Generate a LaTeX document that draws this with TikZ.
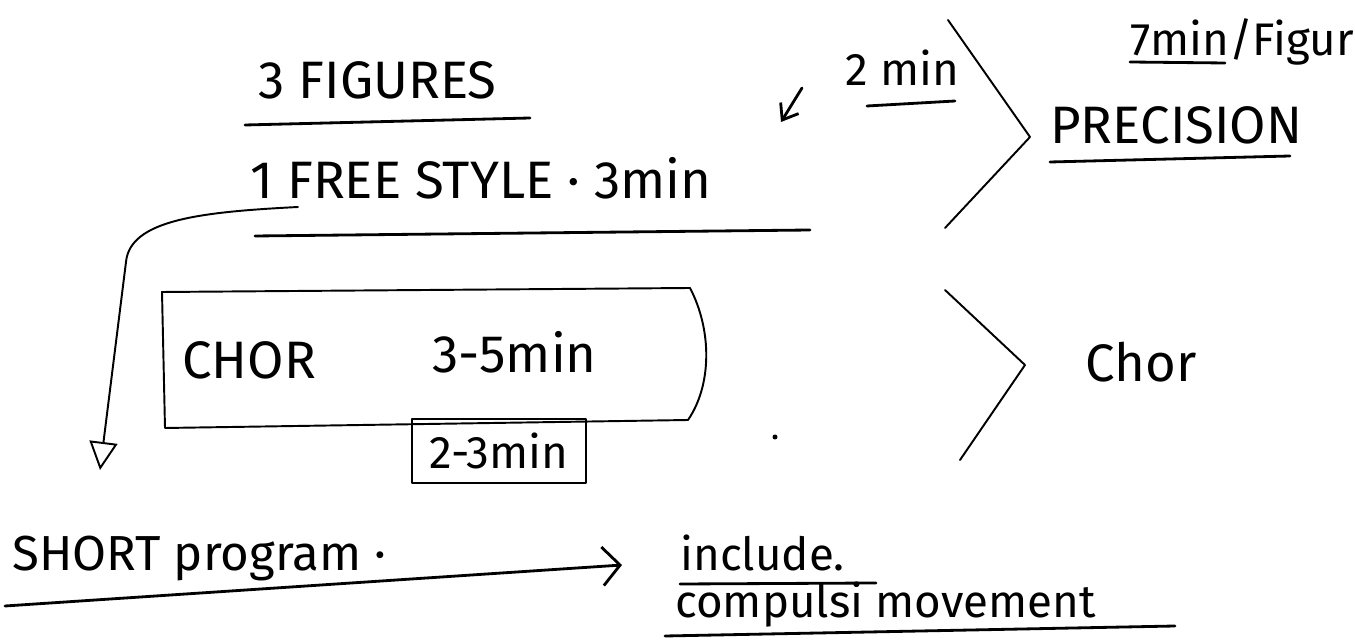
\documentclass[tikz,border=0pt]{standalone}
\usepackage{fontspec}
\setmainfont{Fira Sans}
\usetikzlibrary{arrows.meta}
\tikzset{
  hw/.style={inner sep=0pt, anchor=west, text=black},
  big/.style={hw, font=\fontsize{30}{34}\selectfont},
  mid/.style={hw, font=\fontsize{26}{30}\selectfont},
  ink/.style={line width=1.6pt, line cap=round, line join=round},
  thin/.style={line width=1.1pt, line cap=round, line join=round},
}
\begin{document}
\begin{tikzpicture}[x=0.02cm,y=-0.02cm]
\useasboundingbox (0,0) rectangle (1355,644);
% top left block
\node[big] (fig) at (258,80) {3 FIGURES};
\coordinate (fu1) at (245,125); \coordinate (fu2) at (530,118);
\draw[ink] (fu1) -- (fu2);
\node[big] (free) at (250,178) {1 FREE STYLE · 3min};
\coordinate (ru1) at (255,236); \coordinate (ru2) at (810,230);
\draw[ink] (ru1) -- (ru2);
\node[mid] (two) at (845,68) {2 min};
\coordinate (tu1) at (867,106); \coordinate (tu2) at (955,101);
\draw[ink] (tu1) -- (tu2);
\coordinate (ta) at (802,88); \coordinate (tb) at (781,122);
\draw[ink,-{Straight Barb[length=8pt,width=12pt]}] (ta) -- (tb);
% first bracket
\coordinate (b1a) at (948,20); \coordinate (b1b) at (1030,137); \coordinate (b1c) at (945,228);
\draw[thin] (b1a) -- (b1b) -- (b1c);
\node[mid] (perfig) at (1130,42) {7min/Figur};
\coordinate (pu1) at (1130,62); \coordinate (pu2) at (1225,63);
\draw[ink] (pu1) -- (pu2);
\node[big] (prec) at (1050,125) {PRECISION};
\coordinate (qu1) at (1050,162); \coordinate (qu2) at (1290,156);
\draw[ink] (qu1) -- (qu2);
% chor box
\coordinate (k1) at (162,292); \coordinate (k2) at (690,288);
\coordinate (k3) at (688,420); \coordinate (k4) at (165,428);
\draw[thin] (k1) -- (k2) .. controls (712,330) and (712,385) .. (k3) -- (k4) -- cycle;
\node[big] (chor) at (182,360) {CHOR};
\node[big] (tf) at (432,352) {3-5min};
\node[mid, anchor=center, draw, thin, inner xsep=10pt, inner ysep=8pt] (tt) at (499,451) {2-3min};
% second bracket
\coordinate (b2a) at (945,290); \coordinate (b2b) at (1025,365); \coordinate (b2c) at (960,460);
\draw[thin] (b2a) -- (b2b) -- (b2c);
\node[big] (chor2) at (1085,362) {Chor};
\coordinate (dot) at (775,437);
\fill (dot) circle (2.5);
% long arrow
\coordinate (ls) at (298,207);
\coordinate (le) at (100,470);
\draw[thin,-{Triangle[open,length=16pt,width=16pt]}] (ls) .. controls (200,212) and (130,220) .. (126,262) -- (le);
% bottom
\node[big, font=\fontsize{28}{32}\selectfont] (short) at (12,558) {SHORT program ·};
\node[mid] (incl) at (680,553) {include.};
\coordinate (iu1) at (680,584); \coordinate (iu2) at (876,583);
\draw[ink] (iu1) -- (iu2);
\node[mid] (comp) at (675,605) {compulsi movement};
\coordinate (cu1) at (665,636); \coordinate (cu2) at (1175,626);
\draw[ink] (cu1) -- (cu2);
\coordinate (su) at (5,606);
\coordinate (sa) at (622,565);
\draw[ink,-{Straight Barb[length=10pt,width=22pt]}] (su) -- (sa);
\end{tikzpicture}
\end{document}
